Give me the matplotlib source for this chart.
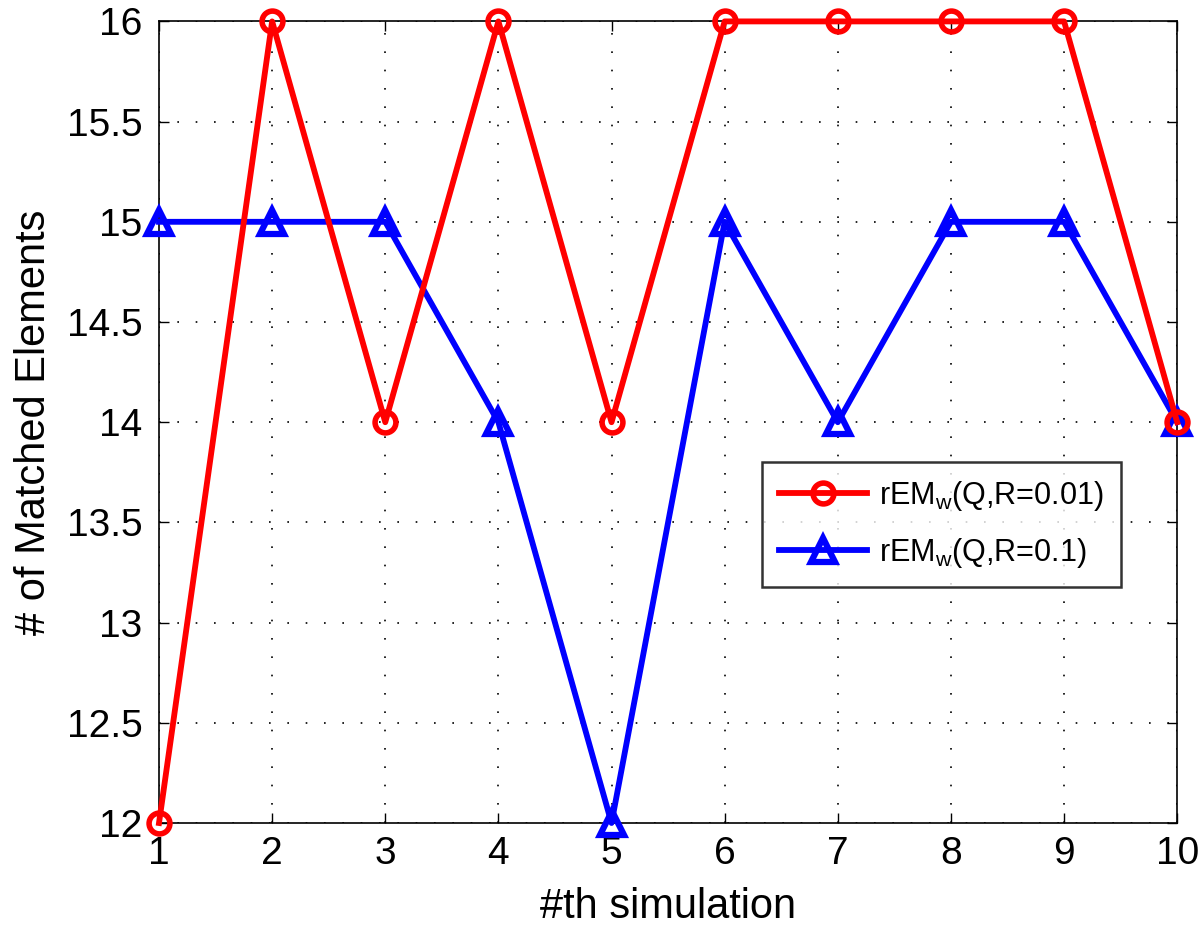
import numpy as np
import matplotlib.pyplot as plt

sims = [1, 2, 3, 4, 5, 6, 7, 8, 9, 10]
red_vals = [12, 16, 14, 16, 14, 16, 16, 16, 16, 14]
blue_vals = [15, 15, 15, 14, 12, 15, 14, 15, 15, 14]
yticks = [12, 12.5, 13, 13.5, 14, 14.5, 15, 15.5, 16]
ytick_labels = ['12', '12.5', '13', '13.5', '14', '14.5', '15', '15.5', '16']

plt.rcParams['font.family'] = ['Liberation Sans', 'DejaVu Sans']
plt.rcParams['mathtext.fontset'] = 'custom'
plt.rcParams['mathtext.rm'] = 'Liberation Sans'
plt.rcParams['mathtext.it'] = 'Liberation Sans'

fig = plt.figure(figsize=(12, 9.31), dpi=100)
ax = fig.add_axes([0.1325, 0.116, 0.8485, 0.861])

ax.plot(sims, red_vals, color='#ff0000', lw=4.2, marker='o', ms=15,
        mfc='none', mew=4, label=r'rEM$_{\mathrm{w}}$(Q,R=0.01)', clip_on=False, zorder=4)
ax.plot(sims, blue_vals, color='#0000ff', lw=4.2, marker='^', ms=17,
        mfc='none', mew=4.5, label=r'rEM$_{\mathrm{w}}$(Q,R=0.1)', clip_on=False, zorder=3)

ax.set_xlim(1, 10)
ax.set_ylim(12, 16)
ax.set_xticks(sims)
ax.set_yticks(yticks)
ax.set_yticklabels(ytick_labels)
ax.tick_params(direction='in', labelsize=28, length=7, width=1,
               top=True, right=True)
ax.tick_params(axis='y', pad=12)
ax.tick_params(axis='x', pad=9)
ax.grid(True, color='black', linestyle=(0, (1, 10)), linewidth=1.2)
for s in ax.spines.values():
    s.set_linewidth(1.2)

ax.set_xlabel('#th simulation', fontsize=30, labelpad=11)
ax.set_ylabel('# of Matched Elements', fontsize=30, labelpad=9)

leg = ax.legend(loc='upper left', bbox_to_anchor=(0.592, 0.450), fontsize=22,
                frameon=True, fancybox=False, edgecolor='black',
                borderaxespad=0, handlelength=2.9, handletextpad=0.4,
                borderpad=0.55, labelspacing=0.75)
leg.get_frame().set_linewidth(1.8)

plt.savefig('out.png', dpi=100)
plt.close()
